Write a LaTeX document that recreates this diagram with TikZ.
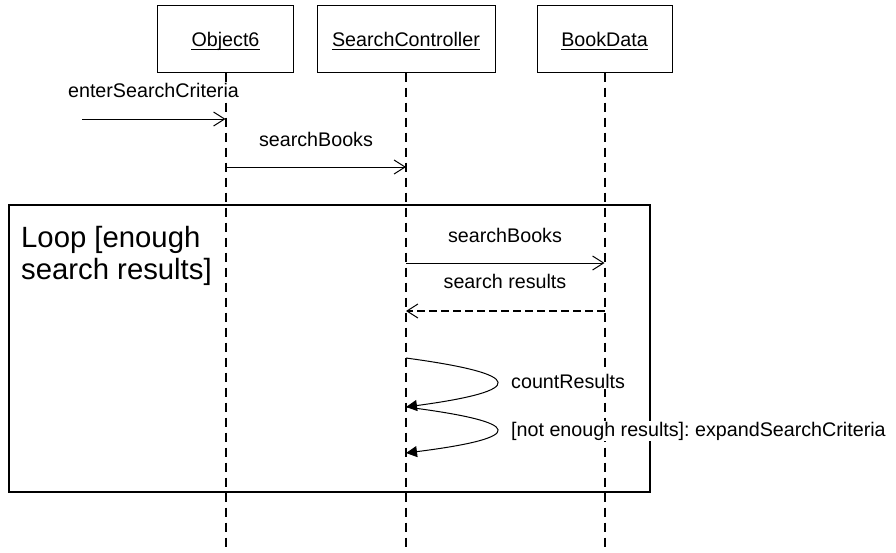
\documentclass[tikz,border=0pt]{standalone}
\usepackage{fontspec}
\setmainfont{Liberation Sans}
\usetikzlibrary{arrows.meta}
\frenchspacing
\begin{document}
\begin{tikzpicture}[x=1pt,y=-1pt,
  objbox/.style={draw, line width=1pt, minimum height=67pt, inner sep=0pt},
  ttl/.style={inner sep=0pt, anchor=base, font=\fontsize{19.7pt}{23pt}\selectfont},
  lbl/.style={fill=white, inner sep=1pt, font=\fontsize{19.7pt}{23pt}\selectfont},
  lifeline/.style={line width=2pt, dash pattern=on 9pt off 6pt},
  msg/.style={line width=1pt, -{Straight Barb[length=11pt,width=14pt,line width=1pt]}},
  retmsg/.style={line width=1.8pt, dash pattern=on 8pt off 4pt, -{Straight Barb[length=11pt,width=14pt,line width=1pt]}},
  selfmsg/.style={line width=1pt, -{Triangle[length=11pt,width=11pt]}},
  loopbox/.style={draw, line width=1.7pt, minimum width=641pt, minimum height=287pt, inner sep=0pt}
]
\useasboundingbox (0,0) rectangle (896,552);

% loop frame
\node[loopbox] (loop) at (329.5,348.5) {};
\node[anchor=base west, inner sep=0pt, font=\fontsize{29.3pt}{32pt}\selectfont] (looplbl) at (21,247)
  {\begin{tabular}[t]{@{}l@{}}Loop [enough\\search results]\end{tabular}};

% objects
\node[objbox, minimum width=136pt] (o6) at (225.5,38.5) {};
\node[objbox, minimum width=178pt] (sc) at (406,38.5) {};
\node[objbox, minimum width=135pt] (bd) at (604.5,38.5) {};
\node[ttl] (o6t) at (225.5,46) {Object6};
\node[ttl] (sct) at (406,46) {SearchController};
\node[ttl] (bdt) at (604.5,46) {BookData};
\foreach \t in {o6t,sct,bdt}
  \draw[line width=0.8pt] ([yshift=-3.3pt]\t.base west) -- ([yshift=-3.3pt]\t.base east);

% lifelines
\coordinate (bottom) at (0,552);
\draw[lifeline] (o6.south) -- (o6 |- bottom);
\draw[lifeline] (sc.south) -- (sc |- bottom);
\draw[lifeline] (bd.south) -- (bd |- bottom);

% message anchor points
\coordinate (m1s) at (82,119);
\coordinate (m2) at (0,167);
\coordinate (m3) at (0,263);
\coordinate (m4) at (0,311);
\coordinate (s1a) at (406,358);
\coordinate (s1b) at (406,407);
\coordinate (s2b) at (406,453);

% messages
\draw[msg] (m1s) -- (m1s -| o6);
\draw[msg] (m2 -| o6) -- (m2 -| sc);
\draw[msg] (m3 -| sc) -- (m3 -| bd);
\draw[retmsg] (m4 -| bd) -- (m4 -| sc);
\draw[selfmsg] (s1a) .. controls (527,374.3) and (527,390.7) .. (s1b);
\draw[selfmsg] (s1b) .. controls (527,422.3) and (527,437.7) .. (s2b);

% labels
\node[lbl, anchor=base] (l1) at (153.5,97) {enterSearchCriteria};
\node[lbl, anchor=base] (l2) at (316,146) {searchBooks};
\node[lbl, anchor=base] (l3) at (505,242) {searchBooks};
\node[lbl, anchor=base] (l4) at (505,288) {search results};
\node[lbl, anchor=base west] (l5) at (510,388) {countResults};
\node[lbl, anchor=base west] (l6) at (510,436) {[not enough results]: expandSearchCriteria};
\end{tikzpicture}
\end{document}
